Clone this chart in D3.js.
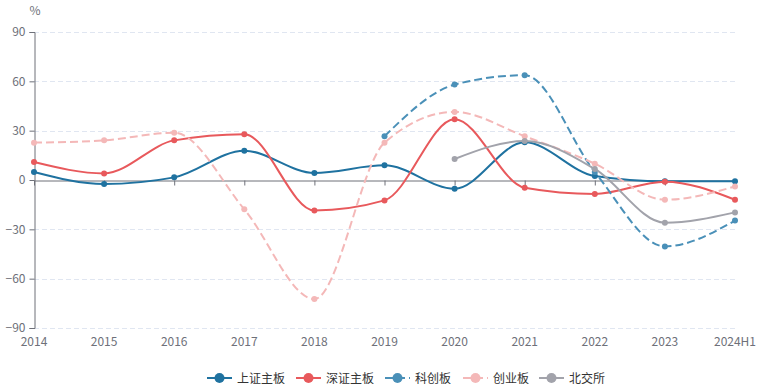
<!DOCTYPE html>
<html><head><meta charset="utf-8">
<script src="https://cdn.jsdelivr.net/npm/d3@7"></script>
<style>
html,body{margin:0;padding:0;background:#fff;}
svg{display:block;font-family:"Noto Sans CJK SC","Noto Sans",sans-serif;}
</style></head>
<body><svg id="c" width="776" height="389"></svg>
<script>
const categories = ["2014","2015","2016","2017","2018","2019","2020","2021","2022","2023","2024H1"];
const yTicks = [-90,-60,-30,0,30,60,90];
const seriesNames = ["上证主板","深证主板","科创板","创业板","北交所"];
const shMain   = [4.9,-2.4,1.6,17.8,4.3,8.9,-5.3,22.9,2.4,-0.8,-0.8];
const szMain   = [10.9,4.0,24.1,27.8,-18.5,-12.4,36.9,-4.7,-8.5,-1.0,-12.0];
const star     = [null,null,null,null,null,26.6,58.0,63.7,4.9,-40.4,-24.7];
const chinext  = [22.7,24.1,28.8,-17.8,-72.4,22.7,41.4,26.6,9.9,-12.0,-3.9];
const bse      = [null,null,null,null,null,null,12.8,23.7,6.7,-26.0,-19.7];
const colors = ["#1f72a0","#e8595c","#4a90b8","#f4b8b8","#a2a3ab"];
const dashed = [false,false,true,true,false];
const data = [shMain, szMain, star, chinext, bse];

(function(){
const svg = d3.select("#c");
const mL = 34, mR = 735, mT = 32, mB = 328;
const x = d3.scalePoint().domain(categories).range([mL, mR]);
const y = d3.scaleLinear().domain([-90, 90]).range([mB, mT]);

// grid
svg.append("g").selectAll("line").data(yTicks.filter(d => d !== 0)).join("line")
  .attr("x1", mL).attr("x2", mR)
  .attr("y1", d => Math.round(y(d)) + 0.5).attr("y2", d => Math.round(y(d)) + 0.5)
  .attr("stroke", "#e0e6f1").attr("stroke-dasharray", "5,3");

// y axis
const yAxis = svg.append("g").attr("transform", `translate(${mL + 0.5},0)`)
  .call(d3.axisLeft(y).tickValues(yTicks).tickSize(5).tickPadding(4));
yAxis.select(".domain").attr("stroke", "#6e7079");
yAxis.selectAll(".tick line").attr("stroke", "#6e7079");
yAxis.selectAll(".tick text").attr("fill", "#6e7079").style("font-size", "12px")
  .style("font-family", "'Noto Sans CJK SC','Noto Sans',sans-serif");

// x axis at zero
const xAxis = svg.append("g").attr("transform", `translate(0,${Math.round(y(0)) + 0.5})`)
  .call(d3.axisBottom(x).tickSize(5).tickSizeOuter(0).tickFormat(() => ""));
xAxis.select(".domain").attr("stroke", "#6e7079");
xAxis.selectAll(".tick line").attr("stroke", "#6e7079");

// x labels at bottom
svg.append("g").selectAll("text").data(categories).join("text")
  .attr("x", d => x(d)).attr("y", 346)
  .attr("text-anchor", "middle").attr("fill", "#6e7079").style("font-size", "12px")
  .text(d => d);

// unit
svg.append("text").attr("x", 35).attr("y", 15).attr("text-anchor", "middle")
  .attr("fill", "#6e7079").style("font-size", "12px").text("%");

// lines
const line = d3.line().defined(d => d.v !== null)
  .x(d => x(d.c)).y(d => y(d.v)).curve(d3.curveMonotoneX);

data.forEach((arr, i) => {
  const pts = arr.map((v, j) => ({c: categories[j], v}));
  const g = svg.append("g");
  g.append("path").attr("d", line(pts)).attr("fill", "none")
    .attr("stroke", colors[i]).attr("stroke-width", 2)
    .attr("stroke-dasharray", dashed[i] ? "8,4" : null);
  g.selectAll("circle").data(pts.filter(d => d.v !== null)).join("circle")
    .attr("cx", d => x(d.c)).attr("cy", d => y(d.v)).attr("r", 3)
    .attr("fill", colors[i]);
});

// legend
const legendX = [207, 296, 385, 463, 539];
const ly = 378;
seriesNames.forEach((n, i) => {
  const g = svg.append("g").attr("transform", `translate(${legendX[i]},${ly})`);
  g.append("line").attr("x1", 0).attr("x2", 25).attr("y1", 0).attr("y2", 0)
    .attr("stroke", colors[i]).attr("stroke-width", 2)
    .attr("stroke-dasharray", dashed[i] ? "8,4" : null);
  g.append("circle").attr("cx", 12.5).attr("cy", 0).attr("r", 5).attr("fill", colors[i]);
  g.append("text").attr("x", 30).attr("y", 4.5).attr("fill", "#333")
    .style("font-size", "12px").text(n);
});
})();
</script></body></html>
